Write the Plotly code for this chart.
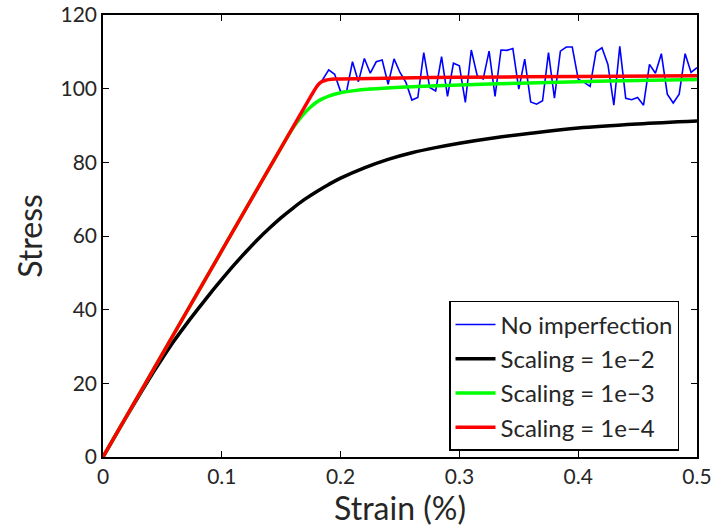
import plotly.graph_objects as go

# ---------------- data ----------------
# No imperfection (blue)
blue_x_lin = [0.0, 0.05, 0.10, 0.15, 0.18, 0.185]
blue_y_lin = [0.0, 28.0, 56.0, 84.0, 100.8, 102.5]
blue_x_noise = [0.19, 0.195, 0.2, 0.205, 0.21, 0.215, 0.22, 0.225, 0.23, 0.235,
                0.24, 0.245, 0.25, 0.255, 0.26, 0.265, 0.27, 0.275, 0.28, 0.285,
                0.29, 0.295, 0.3, 0.305, 0.31, 0.315, 0.32, 0.325, 0.33, 0.335,
                0.34, 0.345, 0.35, 0.355, 0.36, 0.365, 0.37, 0.375, 0.38, 0.385,
                0.39, 0.395, 0.4, 0.405, 0.41, 0.415, 0.42, 0.425, 0.43, 0.435,
                0.44, 0.445, 0.45, 0.455, 0.46, 0.465, 0.47, 0.475, 0.48, 0.485,
                0.49, 0.495, 0.5]
blue_y_noise = [105.1, 103.9, 99.2, 99.2, 107.3, 101.9, 108.2, 104.2, 107.3, 107.8,
                101.2, 108.1, 104.4, 101.7, 96.9, 97.6, 109.8, 100.3, 99.4, 108.7,
                97.9, 106.9, 106.2, 96.3, 110.5, 103.5, 102.6, 110.2, 97.9, 110.5,
                110.4, 110.9, 99.9, 108.0, 96.4, 95.8, 96.7, 109.8, 97.4, 110.2,
                111.3, 111.3, 102.6, 101.7, 100.6, 110.0, 111.1, 106.6, 95.5, 111.5,
                97.4, 97.0, 97.6, 95.5, 106.6, 104.2, 109.5, 98.5, 96.1, 98.5,
                109.5, 104.4, 105.7]

# Scaling = 1e-2 (black)
black_x = [0.0, 0.01, 0.02, 0.03, 0.04, 0.05, 0.06, 0.07, 0.08, 0.09, 0.10,
           0.11, 0.12, 0.13, 0.14, 0.15, 0.16, 0.17, 0.18, 0.19, 0.20,
           0.22, 0.24, 0.26, 0.28, 0.30, 0.33, 0.36, 0.40, 0.45, 0.50]
black_y = [0.0, 5.6, 11.1, 16.5, 21.8, 26.8, 31.6, 36.0, 40.2, 44.3, 48.2,
           52.0, 55.6, 59.0, 62.1, 65.0, 67.6, 70.0, 72.1, 74.0, 75.7,
           78.5, 80.8, 82.6, 84.0, 85.2, 86.7, 87.9, 89.3, 90.4, 91.2]

# Scaling = 1e-3 (green)
green_x = [0.0, 0.10, 0.155, 0.16, 0.165, 0.17, 0.175, 0.18, 0.185, 0.19, 0.20,
           0.21, 0.225, 0.25, 0.30, 0.35, 0.40, 0.45, 0.50]
green_y = [0.0, 56.0, 86.8, 89.4, 91.6, 93.5, 95.1, 96.4, 97.3, 98.0, 98.9,
           99.4, 99.9, 100.4, 101.0, 101.5, 101.9, 102.2, 102.5]

# Scaling = 1e-4 (red)
red_x = [0.0, 0.10, 0.175, 0.18, 0.1825, 0.185, 0.1875, 0.19, 0.195, 0.20,
         0.25, 0.30, 0.40, 0.50]
red_y = [0.0, 56.0, 98.0, 100.6, 101.5, 102.0, 102.3, 102.45, 102.6, 102.65,
         102.9, 103.1, 103.3, 103.5]

x_ticks = [0, 0.1, 0.2, 0.3, 0.4, 0.5]
x_tick_labels = ["0", "0.1", "0.2", "0.3", "0.4", "0.5"]
y_ticks = [0, 20, 40, 60, 80, 100, 120]
y_tick_labels = ["0", "20", "40", "60", "80", "100", "120"]

FONT = "Lato"
TXT = "#262626"

fig = go.Figure()
fig.add_trace(go.Scatter(x=blue_x_lin + blue_x_noise, y=blue_y_lin + blue_y_noise,
                         mode="lines", name="No imperfection",
                         line=dict(color="#0000ff", width=1.6)))
fig.add_trace(go.Scatter(x=black_x, y=black_y, mode="lines", name="Scaling = 1e\u22122",
                         line=dict(color="#000000", width=3.5, shape="spline", smoothing=1.0)))
fig.add_trace(go.Scatter(x=green_x, y=green_y, mode="lines", name="Scaling = 1e\u22123",
                         line=dict(color="#00ff00", width=3.5, shape="spline", smoothing=0.6)))
fig.add_trace(go.Scatter(x=red_x, y=red_y, mode="lines", name="Scaling = 1e\u22124",
                         line=dict(color="#ff0000", width=3.5, shape="spline", smoothing=0.5)))

axis_common = dict(showgrid=False, zeroline=False, showline=True, linecolor="#000000",
                   linewidth=1.5, mirror="ticks", ticks="inside", ticklen=6,
                   tickcolor="#000000", tickwidth=1, automargin=False,
                   ticklabeloverflow="allow",
                   tickfont=dict(family=FONT, size=21, color=TXT))

fig.update_layout(
    width=712, height=529,
    margin=dict(l=103, r=15, t=15, b=72),
    plot_bgcolor="white", paper_bgcolor="white",
    xaxis=dict(range=[0, 0.5], tickvals=x_ticks, ticktext=x_tick_labels,
               title=dict(text="Strain (%)", font=dict(family=FONT, size=32, color=TXT), standoff=2),
               **axis_common),
    yaxis=dict(range=[0, 120], tickvals=y_ticks, ticktext=y_tick_labels,
               title=dict(text="Stress", font=dict(family=FONT, size=32, color=TXT), standoff=8),
               **axis_common),
    legend=dict(x=0.9697, y=0.353, xanchor="right", yanchor="top",
                bordercolor="#000000", borderwidth=1.5, bgcolor="white",
                font=dict(family=FONT, size=24, color=TXT),
                itemwidth=40),
    showlegend=True,
)

fig.write_html("out.html")
